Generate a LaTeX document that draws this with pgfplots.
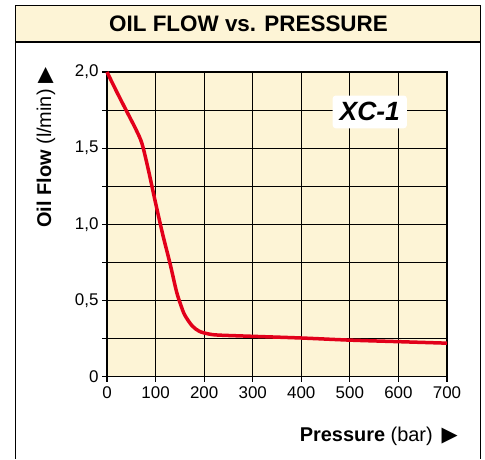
\documentclass[border=0pt]{standalone}
\usepackage{pgfplots}
\pgfplotsset{compat=1.18}
\usepackage{fontspec}
\setmainfont{Liberation Sans}
\newfontfamily\symfont{DejaVu Sans}
\definecolor{cream}{RGB}{253,244,214}
\definecolor{curvered}{RGB}{226,0,26}
\begin{document}
\begin{tikzpicture}[x=1bp,y=1bp]
\path (0,0) rectangle (485,459);
% title band
\fill[cream] (15.5,453.5) rectangle (480.5,417.5);
\draw[line width=1.3bp] (15.5,0) -- (15.5,453.5) -- (480.5,453.5) -- (480.5,0);
\draw[line width=2bp] (15.5,417.3) -- (480.5,417.3);
\node[font=\bfseries\fontsize{22.5}{26}\selectfont] at (248.5,435.5) {OIL FLOW vs. PRESSURE};
\begin{axis}[
  at={(107bp,82.3bp)}, anchor=south west,
  scale only axis, width=340bp, height=304.7bp,
  xmin=0, xmax=700, ymin=0, ymax=2,
  axis background/.style={fill=cream},
  xtick={0,100,...,700},
  ytick={0,0.5,1,1.5,2},
  minor ytick={0.25,0.75,1.25,1.75},
  yticklabels={0,{0,5},{1,0},{1,5},{2,0}},
  grid=both,
  major grid style={black, line width=1.1bp},
  minor grid style={black, line width=1.1bp},
  axis line style={black, line width=1.2bp},
  tick style={black, line width=1.1bp},
  tick align=outside,
  major tick length=5bp, minor tick length=5bp,
  xtick pos=bottom, ytick pos=left,
  tick label style={font=\fontsize{17}{19}\selectfont},
  /pgf/number format/assume math mode=true,
  xticklabel style={yshift=-1bp},
  yticklabel style={xshift=0bp},
  clip=false,
]
\addplot[curvered, line width=3.5bp, smooth, tension=0.5] coordinates {
(0,2.0) (20,1.87) (40,1.745) (60,1.62) (72,1.53) (85,1.36) (100,1.14) (115,0.93)
(130,0.74) (143,0.56) (152,0.47) (160,0.405) (175,0.335) (190,0.298) (210,0.28)
(230,0.273) (300,0.265) (400,0.254) (500,0.24) (600,0.23) (700,0.22)
};
\node[fill=white, rounded corners=3bp, inner xsep=7bp, inner ysep=7bp,
  font=\bfseries\itshape\fontsize{26.5}{29}\selectfont] at (axis cs:541,1.738) {XC-1};
\end{axis}
\node[rotate=90, anchor=east, inner sep=0pt, font=\fontsize{20}{22}\selectfont] at (46,392)
  {\textbf{Oil Flow} (l/min)\hspace{6bp}{\symfont\fontsize{21}{23}\selectfont ▶}};
\node[anchor=east, inner sep=0pt, font=\fontsize{20}{23}\selectfont] at (458,23)
  {\textbf{Pressure} (bar)\hspace{9bp}{\symfont\fontsize{21}{23}\selectfont ▶}};
\end{tikzpicture}
\end{document}
